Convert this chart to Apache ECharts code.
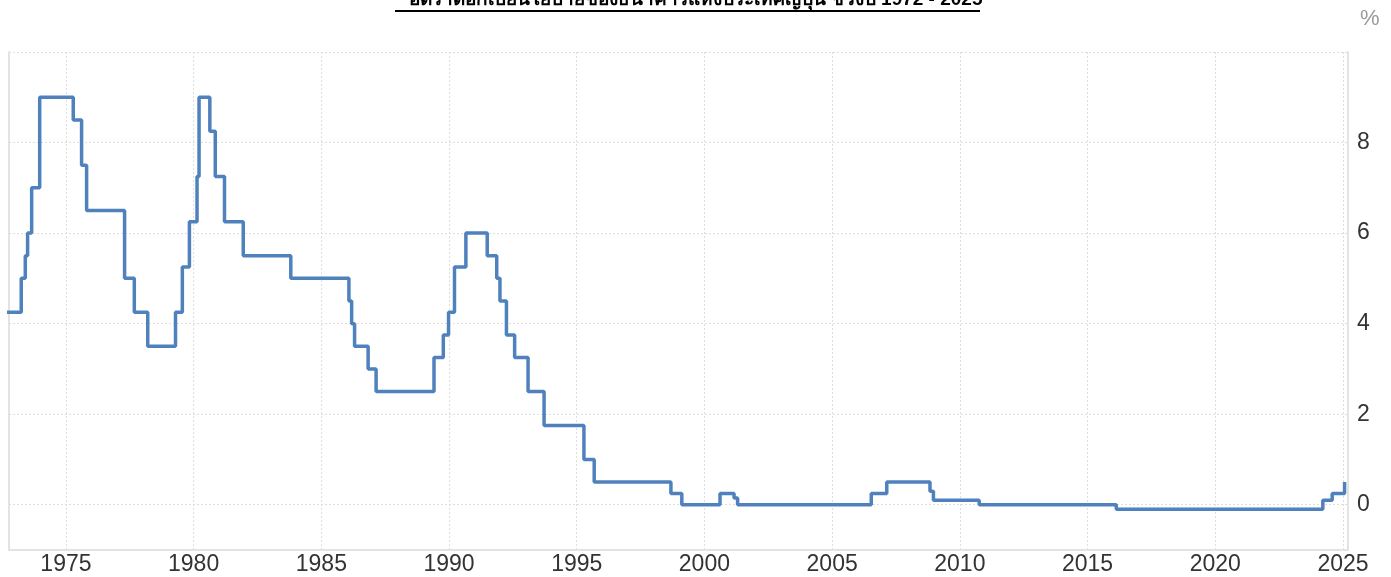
<!DOCTYPE html>
<html>
<head>
<meta charset="utf-8">
<script src="https://cdn.jsdelivr.net/npm/echarts@6/dist/echarts.min.js"></script>
<style>
  html, body { margin: 0; padding: 0; background: #fff; }
  #chart { width: 1391px; height: 577px; }
</style>
</head>
<body>
<div id="chart"></div>
<script>
// Dates when the rate changed, and the new rate (%)
var changeDates = [
  '1972-06-24','1973-04-02','1973-05-30','1973-07-02','1973-08-29','1973-12-22',
  '1975-04-16','1975-08-13','1975-10-24','1977-04-19','1977-09-05','1978-03-16',
  '1979-04-17','1979-07-24','1979-11-02','1980-02-19','1980-03-19','1980-08-20',
  '1980-11-06','1981-03-18','1981-12-11','1983-10-22','1986-01-30','1986-03-10',
  '1986-04-21','1986-11-01','1987-02-23','1989-05-31','1989-10-11','1989-12-25',
  '1990-03-20','1990-08-30','1991-07-01','1991-11-14','1991-12-30','1992-04-01',
  '1992-07-27','1993-02-04','1993-09-21','1995-04-14','1995-09-08','1998-09-09',
  '1999-02-12','2000-08-11','2001-02-28','2001-04-20','2006-07-14','2007-02-21',
  '2008-10-31','2008-12-19','2010-10-05','2016-02-16','2024-03-19','2024-07-31',
  '2025-01-24'
];
var rateValues = [
  4.25, 5.00, 5.50, 6.00, 7.00, 9.00,
  8.50, 7.50, 6.50, 5.00, 4.25, 3.50,
  4.25, 5.25, 6.25, 7.25, 9.00, 8.25,
  7.25, 6.25, 5.50, 5.00, 4.50, 4.00,
  3.50, 3.00, 2.50, 3.25, 3.75, 4.25,
  5.25, 6.00, 5.50, 5.00, 4.50, 3.75,
  3.25, 2.50, 1.75, 1.00, 0.50, 0.25,
  0.00, 0.25, 0.15, 0.00, 0.25, 0.50,
  0.30, 0.10, 0.00, -0.10, 0.10, 0.25,
  0.50
];
var xTickYears = [1975, 1980, 1985, 1990, 1995, 2000, 2005, 2010, 2015, 2020, 2025];
var yTickLabels = [0, 2, 4, 6, 8];
var yGridValues = [0, 2, 4, 6, 8, 10];
var titleText = 'อัตราดอกเบี้ยนโยบายของธนาคารแห่งประเทศญี่ปุ่น ช่วงปี 1972 - 2025';
var unitText = '%';

function parseDate(s) {
  var p = s.split('-');
  return new Date(+p[0], +p[1] - 1, +p[2]).getTime();
}
var seriesData = changeDates.map(function (d, i) { return [parseDate(d), rateValues[i]]; });
var xTicks = xTickYears.map(function (y) { return new Date(y, 0, 1).getTime(); });

var chart = echarts.init(document.getElementById('chart'), null, { renderer: 'canvas' });
var gridColor = '#dedede';
var axisColor = '#e3e3e3';
var fontFam = '"Liberation Sans", Arial, sans-serif';

chart.setOption({
  animation: false,
  backgroundColor: '#ffffff',
  grid: { left: 9, right: 43, top: 52, bottom: 27, containLabel: false },
  graphic: [
    {
      type: 'text',
      left: 'center',
      top: -10,
      style: {
        text: titleText,
        font: 'bold 19px ' + fontFam,
        fill: '#000'
      }
    },
    {
      type: 'line',
      shape: { x1: 395, y1: 11, x2: 980, y2: 11 },
      style: { stroke: '#000', lineWidth: 2 }
    }
  ],
  xAxis: {
    type: 'value',
    min: parseDate('1972-10-09'),
    max: parseDate('2025-03-14'),
    axisLine: { show: true, onZero: false, lineStyle: { color: axisColor, width: 2 } },
    axisTick: { show: false, customValues: xTicks },
    axisLabel: {
      customValues: xTicks,
      margin: 3,
      fontSize: 23,
      color: '#333',
      fontFamily: fontFam,
      formatter: function (v) { return String(new Date(v).getFullYear()); }
    },
    splitLine: { show: true, lineStyle: { color: gridColor, type: [2, 2], width: 1 } }
  },
  yAxis: [
    {
      type: 'value',
      position: 'right',
      min: -1,
      max: 10,
      name: unitText,
      nameLocation: 'end',
      nameGap: 22,
      nameTextStyle: { color: '#999', fontSize: 22, fontFamily: fontFam, align: 'left', padding: [0, 0, 0, 12] },
      axisLine: { show: true, lineStyle: { color: axisColor, width: 2 } },
      axisTick: { show: false, customValues: yGridValues },
      axisLabel: {
        customValues: yTickLabels,
        margin: 9,
        fontSize: 23,
        color: '#333',
        fontFamily: fontFam
      },
      splitLine: { show: true, lineStyle: { color: gridColor, type: [2, 2], width: 1 } }
    },
    {
      type: 'value',
      position: 'left',
      min: -1,
      max: 10,
      axisLine: { show: true, lineStyle: { color: axisColor, width: 2 } },
      axisTick: { show: false },
      axisLabel: { show: false },
      splitLine: { show: false }
    }
  ],
  series: [{
    type: 'line',
    step: 'end',
    yAxisIndex: 0,
    data: seriesData,
    showSymbol: false,
    clip: true,
    lineStyle: { color: '#4f81bd', width: 3.5 },
    itemStyle: { color: '#4f81bd' }
  }]
});
</script>
</body>
</html>
